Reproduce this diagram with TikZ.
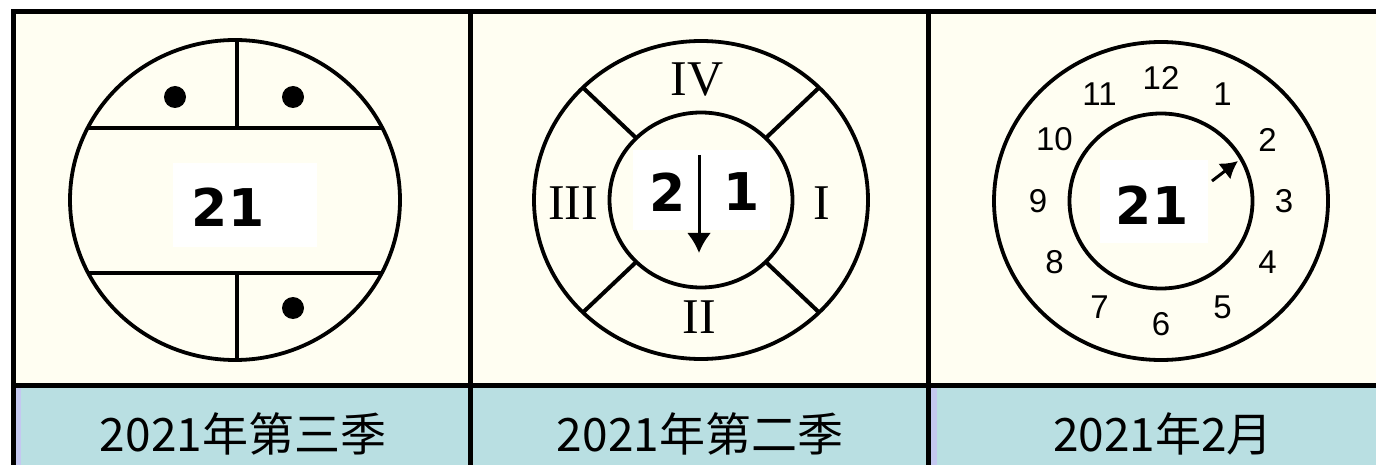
\documentclass[tikz,border=0pt]{standalone}
\usepackage{fontspec}
\usepackage{tikz}
\newfontfamily\cjk{Noto Sans CJK SC}
\newfontfamily\romfont{Liberation Serif}
\newfontfamily\clkfont{Liberation Sans}
\newfontfamily\numfont{DejaVu Sans}
\definecolor{mycream}{RGB}{255,254,242}
\definecolor{myteal}{RGB}{185,223,226}
\definecolor{mylilac}{RGB}{196,200,240}
\usetikzlibrary{arrows.meta, calc}

\begin{document}
\begin{tikzpicture}[x=1pt, y=-1pt, >={Latex[length=20pt,width=24pt]},   %Pixelraster
	ring/.style={line width=3.8pt},
	grid/.style={line width=5pt},
	hand/.style={line width=3pt, ->},
	numtxt/.style={inner sep=0pt, font=\numfont\bfseries\fontsize{52}{52}\selectfont},
	romtxt/.style={inner sep=0pt, font=\romfont\fontsize{50}{50}\selectfont},
	clktxt/.style={inner sep=0pt, font=\clkfont\fontsize{33}{33}\selectfont},
	captxt/.style={inner sep=0pt, font=\cjk\fontsize{46}{46}\selectfont}]
	\useasboundingbox (0,0) rectangle (1376,465);
	\clip (0,0) rectangle (1376,465);
	\fill[white] (0,0) rectangle (1376,465);
	% Tabelle
	\fill[mycream] (13,12) rectangle (1390,385);
	\fill[myteal] (13,385) rectangle (1390,470);
	\fill[mylilac] (15,387) rectangle (21,470);
	\fill[mylilac] (930,387) rectangle (937,470);
	\draw[grid] (11,12) -- (1390,12);
	\draw[grid] (11,385.5) -- (1390,385.5);
	\foreach \xx in {13.5,470.5,928.5}
		\draw[grid] (\xx,10) -- (\xx,470);
	% Feld 1
	\coordinate (c1) at (235,200);
	\draw[ring] (c1) ellipse [x radius=165pt, y radius=160pt];
	\draw[ring] (87.7,128) -- (382.3,128);
	\draw[ring] (88.2,273) -- (381.8,273);
	\draw[ring] (237,40) -- (237,128);
	\draw[ring] (237,273) -- (237,360);
	\fill (175,97) circle[radius=11pt];
	\fill (293,97) circle[radius=11pt];
	\fill (293,308) circle[radius=11pt];
	\fill[white] (173,163) rectangle (317,247);
	\node[numtxt] (num1) at (228,207) {21};
	% Feld 2
	\coordinate (c2) at (701,200);
	\draw[ring] (c2) ellipse [x radius=167pt, y radius=159pt];
	\draw[ring] (c2) ellipse [x radius=91.5pt, y radius=87.5pt];
	\foreach \ang in {45,135,225,315}
		\draw[line width=4pt] ($(c2)+(\ang:91.5pt and 87.5pt)$) -- ($(c2)+(\ang:167pt and 159pt)$);
	\node[romtxt] (q4) at (697,80) {IV};
	\node[romtxt] (q3) at (573,203) {III};
	\node[romtxt] (q1) at (822,203) {I};
	\node[romtxt] (q2) at (699,317) {II};
	\fill[white] (633,150) rectangle (770,230);
	\coordinate (hand2a) at (699,155);
	\coordinate (hand2b) at (699,253);
	\draw[hand] (hand2a) -- (hand2b);
	\node[numtxt] (num2a) at (668,192) {2};
	\node[numtxt] (num2b) at (742,192) {1};
	% Feld 3
	\coordinate (c3) at (1161,201);
	\draw[ring] (c3) ellipse [x radius=167pt, y radius=159pt];
	\draw[ring] (c3) ellipse [x radius=91.5pt, y radius=87.5pt];
	\foreach \k in {1,...,12}
		\node[clktxt] (h\k) at ($(c3)+(90-30*\k:123pt)$) {\k};
	\fill[white] (1100,160) rectangle (1208,243);
	\node[numtxt] (num3) at (1152,205) {21};
	\coordinate (hand3a) at (1212,181);
	\coordinate (hand3b) at (1238,161);
	\draw[hand, >={Latex[length=17pt,width=20pt]}] (hand3a) -- (hand3b);
	% Beschriftung
	\node[captxt] (cap1) at (243,434) {2021年第三季};
	\node[captxt] (cap2) at (700,434) {2021年第二季};
	\node[captxt] (cap3) at (1163,434) {2021年2月};
\end{tikzpicture}
\end{document}
